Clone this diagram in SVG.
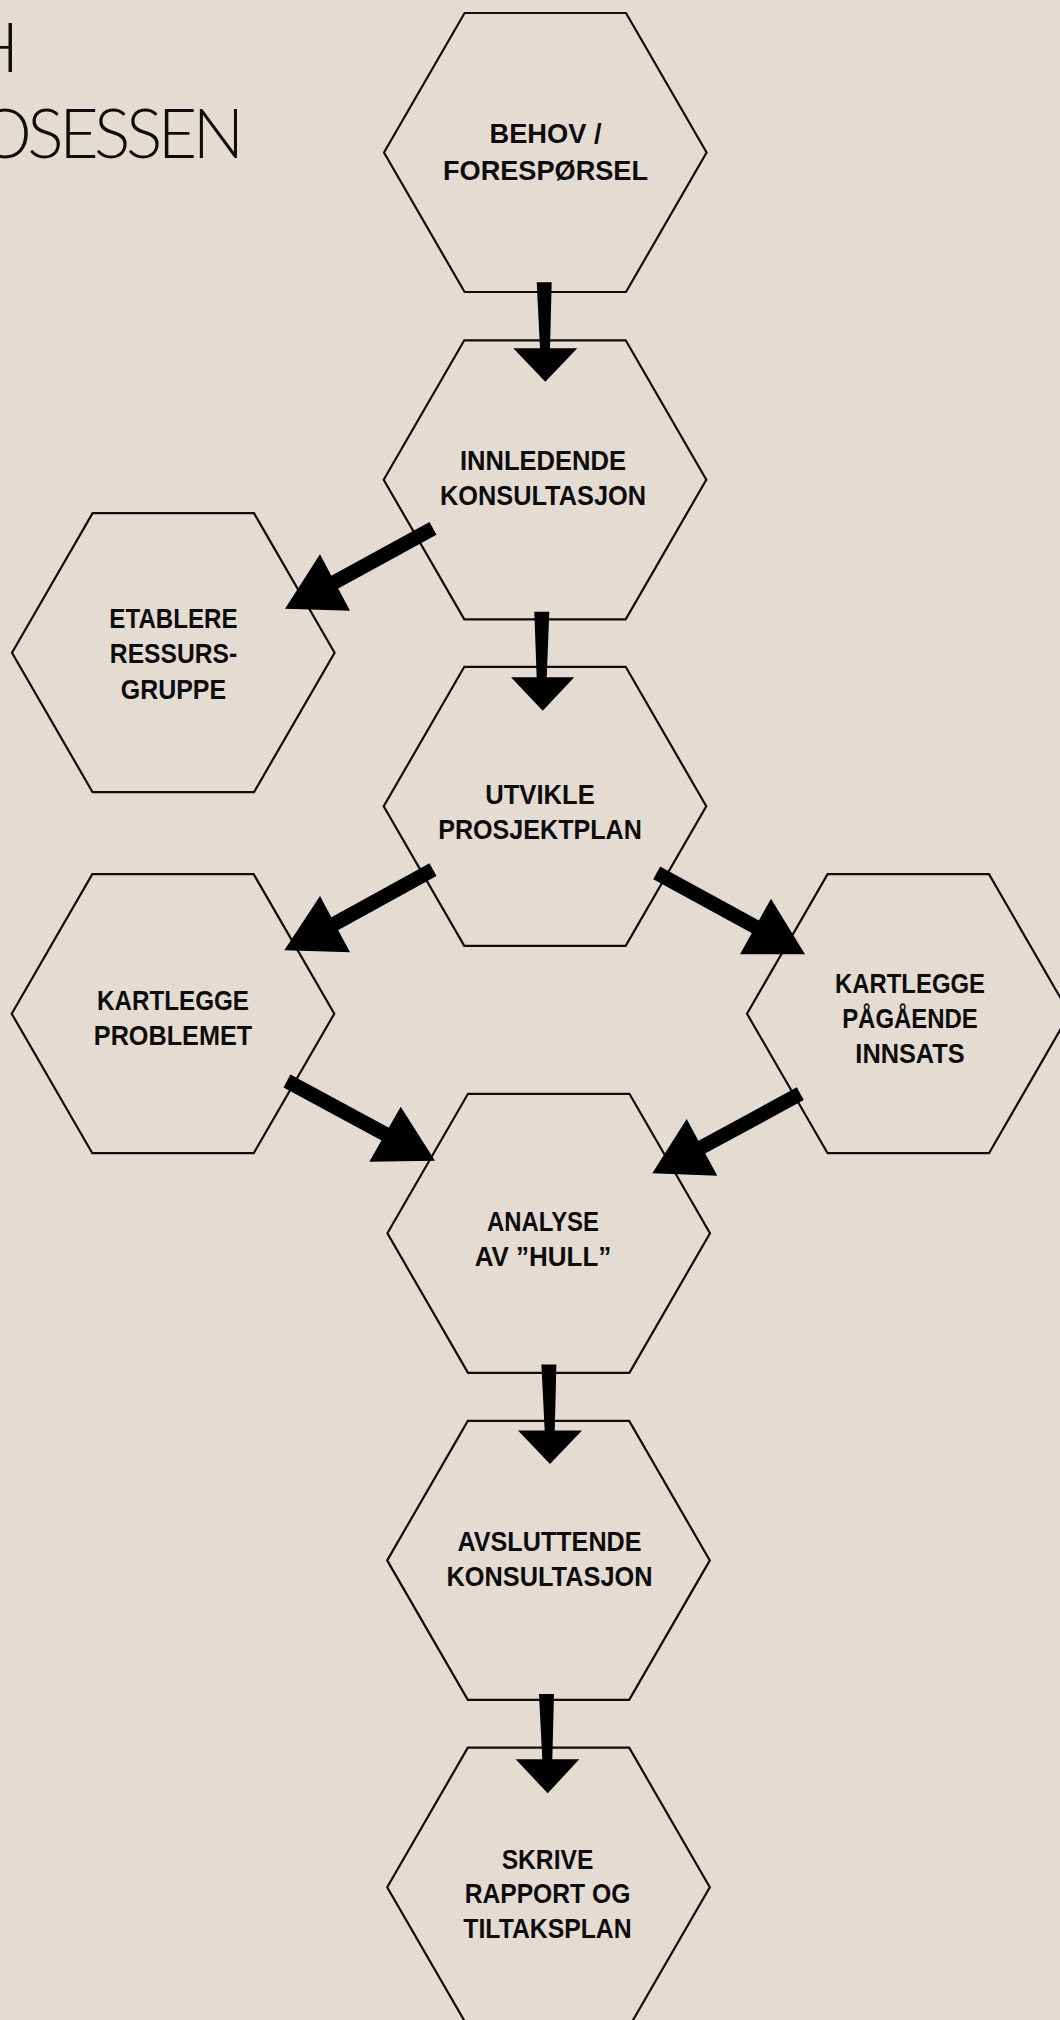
<svg xmlns="http://www.w3.org/2000/svg" xmlns:xlink="http://www.w3.org/1999/xlink" width="1060" height="2020" viewBox="0 0 1060 2020">
<style>
.hex{fill:none;stroke:#0d0d0d;stroke-width:2.2;stroke-linejoin:miter}
.lbl{font-family:"Liberation Sans",Arial,sans-serif;font-weight:700;font-size:28.5px;fill:#0d0d0d;text-anchor:middle}
.title{font-family:"Lato","Inter","Liberation Sans",sans-serif;font-weight:300;font-size:68px;fill:#0d0d0d;text-anchor:end}
.shaft{stroke:#000;stroke-width:14.5;stroke-linecap:butt;fill:none}
.head{fill:#000}
</style>
<defs>
<polygon id="hexshape" points="-161.3,0 -80.7,-139.5 80.7,-139.5 161.3,0 80.7,139.5 -80.7,139.5"/>
</defs>
<rect width="1060" height="2020" fill="#e4dcd3"/>
<g id="title">
<text class="title" x="19" y="72">H</text>
<text class="title" x="244" y="158" textLength="266" lengthAdjust="spacing">OSESSEN</text>
</g>
<g id="n1"><use xlink:href="#hexshape" class="hex" transform="translate(545.3,152.5)"/>
<text class="lbl" x="545.5" y="142.5" textLength="112" lengthAdjust="spacingAndGlyphs">BEHOV /</text><text class="lbl" x="545.5" y="180" textLength="205" lengthAdjust="spacingAndGlyphs">FORESPØRSEL</text></g>
<g id="n2"><use xlink:href="#hexshape" class="hex" transform="translate(545,479.8)"/>
<text class="lbl" x="543" y="470" textLength="166" lengthAdjust="spacingAndGlyphs">INNLEDENDE</text><text class="lbl" x="543" y="505" textLength="206" lengthAdjust="spacingAndGlyphs">KONSULTASJON</text></g>
<g id="n3"><use xlink:href="#hexshape" class="hex" transform="translate(545,806.3)"/>
<text class="lbl" x="540" y="803.5" textLength="109.5" lengthAdjust="spacingAndGlyphs">UTVIKLE</text><text class="lbl" x="540" y="838.5" textLength="203.5" lengthAdjust="spacingAndGlyphs">PROSJEKTPLAN</text></g>
<g id="n4"><use xlink:href="#hexshape" class="hex" transform="translate(173.3,652.7)"/>
<text class="lbl" x="173.5" y="627.7" textLength="128.3" lengthAdjust="spacingAndGlyphs">ETABLERE</text><text class="lbl" x="173.5" y="663.3" textLength="127.3" lengthAdjust="spacingAndGlyphs">RESSURS-</text><text class="lbl" x="173.5" y="699" textLength="105.3" lengthAdjust="spacingAndGlyphs">GRUPPE</text></g>
<g id="n5"><use xlink:href="#hexshape" class="hex" transform="translate(173,1013.7)"/>
<text class="lbl" x="173" y="1010" textLength="152" lengthAdjust="spacingAndGlyphs">KARTLEGGE</text><text class="lbl" x="173" y="1045" textLength="158.4" lengthAdjust="spacingAndGlyphs">PROBLEMET</text></g>
<g id="n6"><use xlink:href="#hexshape" class="hex" transform="translate(908.3,1013.7)"/>
<text class="lbl" x="910" y="993.3" textLength="150" lengthAdjust="spacingAndGlyphs">KARTLEGGE</text><text class="lbl" x="910" y="1027.7" textLength="135.7" lengthAdjust="spacingAndGlyphs">PÅGÅENDE</text><text class="lbl" x="910" y="1062.7" textLength="109.3" lengthAdjust="spacingAndGlyphs">INNSATS</text></g>
<g id="n7"><use xlink:href="#hexshape" class="hex" transform="translate(548.7,1233.3)"/>
<text class="lbl" x="543" y="1231" textLength="112" lengthAdjust="spacingAndGlyphs">ANALYSE</text><text class="lbl" x="543" y="1266" textLength="136.5" lengthAdjust="spacingAndGlyphs">AV ”HULL”</text></g>
<g id="n8"><use xlink:href="#hexshape" class="hex" transform="translate(548.5,1560.4)"/>
<text class="lbl" x="549.5" y="1551" textLength="184" lengthAdjust="spacingAndGlyphs">AVSLUTTENDE</text><text class="lbl" x="549.5" y="1586" textLength="206" lengthAdjust="spacingAndGlyphs">KONSULTASJON</text></g>
<g id="n9"><use xlink:href="#hexshape" class="hex" transform="translate(548.5,1887.2)"/>
<text class="lbl" x="547.5" y="1869.3" textLength="91.7" lengthAdjust="spacingAndGlyphs">SKRIVE</text><text class="lbl" x="547.5" y="1903.3" textLength="165.7" lengthAdjust="spacingAndGlyphs">RAPPORT OG</text><text class="lbl" x="547.5" y="1938.3" textLength="168.3" lengthAdjust="spacingAndGlyphs">TILTAKSPLAN</text></g>
<g id="connectors">
<g id="a1"><polygon class="head" points="536.7,282.3 551.7,282.3 550,349 540,349"/><polygon class="head" points="513.3,348.3 577.3,348.3 545.3,381.7"/></g>
<g id="a3"><polygon class="head" points="534.3,611.7 549.3,611.7 546.7,678 536.7,678"/><polygon class="head" points="511,677.3 574.3,677.3 542.7,710.7"/></g>
<g id="a8"><polygon class="head" points="541.4,1364.6 556.4,1364.6 554.7,1431.3 544.7,1431.3"/><polygon class="head" points="518,1430.6 582,1430.6 550,1464"/></g>
<g id="a9"><polygon class="head" points="539,1694 554,1694 552.3,1760 542.3,1760"/><polygon class="head" points="515.7,1759.3 579.3,1759.3 547.7,1793.3"/></g>
<g id="a2"><line class="shaft" x1="433" y1="528.3" x2="318.3" y2="591.2"/><polygon class="head" points="320,554.3 285,608.7 350,610.7"/></g>
<g id="a4"><line class="shaft" x1="433" y1="869.7" x2="318.1" y2="932.9"/><polygon class="head" points="320,896 284.3,950.3 350,952.3"/></g>
<g id="a5"><line class="shaft" x1="656.7" y1="872.8" x2="772" y2="935.8"/><polygon class="head" points="771,898.7 740,954.3 805,954.3"/></g>
<g id="a6"><line class="shaft" x1="287" y1="1081" x2="401.7" y2="1143"/><polygon class="head" points="400.7,1106.7 369.3,1161.7 435,1160.7"/></g>
<g id="a7"><line class="shaft" x1="800.3" y1="1093.7" x2="685.4" y2="1156"/><polygon class="head" points="686.7,1119 652.3,1173.3 717.3,1175.7"/></g>
</g>
</svg>
